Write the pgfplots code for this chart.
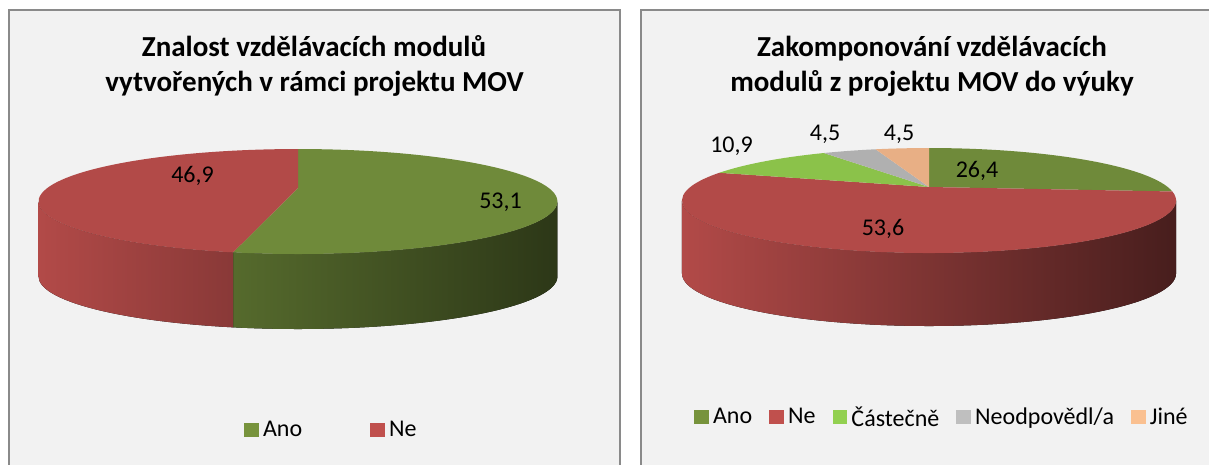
\documentclass[border=0pt]{standalone}
\usepackage{pgfplots}
\pgfplotsset{compat=1.18}
\usepackage{pgfplotstable}
\usepackage{fontspec}
\setmainfont{Carlito}

\definecolor{panelbg}{HTML}{F2F2F2}
\definecolor{panelborder}{HTML}{8A8A8A}
% top-face colours of the slices
\definecolor{A0}{HTML}{6F8A3A}
\definecolor{A1}{HTML}{B24A48}
\definecolor{B0}{HTML}{6F8A3A}
\definecolor{B1}{HTML}{B24A48}
\definecolor{B2}{HTML}{8BC24A}
\definecolor{B3}{HTML}{B0B0B0}
\definecolor{B4}{HTML}{E8AF85}
% legend colours
\definecolor{lgAno}{HTML}{77933C}
\definecolor{lgNe}{HTML}{C0504D}
\definecolor{lgCast}{HTML}{92D050}
\definecolor{lgNeod}{HTML}{BFBFBF}
\definecolor{lgJine}{HTML}{FAC090}

\newcommand\titlefont{\fontsize{29}{35}\selectfont\bfseries}
\newcommand\labfont{\fontsize{24}{29}\selectfont}

% value = percentage; lx, ly = position of the data label (baseline)
\pgfplotstableread{
name value lx ly
Ano 53.1 500.5 256
Ne 46.9 192.5 282
}\dataA
\pgfplotstableread{
name value lx ly
Ano 26.4 977 287
Ne 53.6 883 229
Castecne 10.9 731.5 312
Neodpovedl 4.5 825 324
Jine 4.5 899 324
}\dataB

% ---- 3D pie geometry (perspective projection of a disc) ----
\newcommand\PIstore[2]{\expandafter\xdef\csname PI#1\endcsname{#2}}
\newcommand\PIget[1]{\csname PI#1\endcsname}
\newcommand{\pieparams}[6]{%
  \pgfmathsetmacro\PIcx{#1}\pgfmathsetmacro\PIcy{#2}%
  \pgfmathsetmacro\PIrx{#3}\pgfmathsetmacro\PIry{#4}%
  \pgfmathsetmacro\PIh{#5}\pgfmathsetmacro\PID{#6}%
  \pgfmathsetmacro\PIYt{\PIry*\PID/(\PID+1)}%
  \pgfmathsetmacro\PIYb{-\PIry*\PID/(\PID-1)}%
  \pgfmathsetmacro\PIYc{(\PIYt+\PIYb)/2}%
  \pgfmathsetmacro\PIRy{(\PIYt-\PIYb)/2}%
  \pgfmathsetmacro\PIRx{\PIrx/sqrt(1-1/(\PID*\PID))}%
  \pgfmathsetmacro\PIex{\PIcx}%
  \pgfmathsetmacro\PIey{\PIcy+\PIYc}%
}
\newcommand{\pieT}[2]{%
  \pgfmathsetmacro\PIf{\PID/(\PID+sin(#1))}%
  \pgfmathsetmacro\PIu{cos(#1)*\PIf*(\PIrx/\PIRx)}%
  \pgfmathsetmacro\PIv{(\PIry*sin(#1)*\PIf-\PIYc)/\PIRy}%
  \pgfmathtruncatemacro\PIsmall{abs(\PIu)<0.001?1:0}%
  \ifnum\PIsmall=1
    \pgfmathsetmacro\PItt{\PIv>0?90:-90}%
  \else
    \pgfmathsetmacro\PItt{atan2(\PIv,\PIu)}%
  \fi
  \pgfmathsetmacro#2{\PItt+360*round((#1-\PItt)/360)}%
}
% computes the geometry from the table values, stores it globally
\newcommand{\computepie}[2]{%
  \pgfplotstablegetrowsof{#1}\pgfmathtruncatemacro\PIn{\pgfplotsretval-1}%
  \PIstore{#2@n}{\PIn}\PIstore{#2@cx}{\PIcx}\PIstore{#2@cy}{\PIcy}%
  \PIstore{#2@Rx}{\PIRx}\PIstore{#2@Ry}{\PIRy}%
  \def\PItot{0}%
  \pgfplotsforeachungrouped \i in {0,...,\PIn}{%
    \pgfplotstablegetelem{\i}{value}\of{#1}%
    \pgfmathsetmacro\PItot{\PItot+\pgfplotsretval}}%
  \def\PIth{90}%
  \pgfplotsforeachungrouped \i in {0,...,\PIn}{%
    \pgfplotstablegetelem{\i}{value}\of{#1}%
    \pgfmathsetmacro\PIthe{\PIth-(\pgfplotsretval/\PItot)*360}%
    \pieT{\PIth}\PIts\pieT{\PIthe}\PIte
    \pgfmathsetmacro\PIxs{\PIex+\PIRx*cos(\PIts)}%
    \pgfmathsetmacro\PIys{\PIey+\PIRy*sin(\PIts)}%
    \PIstore{#2@\i @ts}{\PIts}\PIstore{#2@\i @te}{\PIte}%
    \PIstore{#2@\i @xs}{\PIxs}\PIstore{#2@\i @ys}{\PIys}%
    \pgfmathsetmacro\PIa{max(\PIte,-180)}%
    \pgfmathsetmacro\PIb{min(\PIts,0)}%
    \pgfmathtruncatemacro\PIvis{(\PIa<\PIb-0.01)?1:0}%
    \PIstore{#2@\i @vis}{\PIvis}%
    \ifnum\PIvis=1
      \pgfmathsetmacro\PIxa{\PIex+\PIRx*cos(\PIa)}%
      \pgfmathsetmacro\PIya{\PIey+\PIRy*sin(\PIa)-\PIh}%
      \pgfmathsetmacro\PIxb{\PIex+\PIRx*cos(\PIb)}%
      \pgfmathsetmacro\PIyb{\PIey+\PIRy*sin(\PIb)}%
      \pgfmathsetmacro\PIfl{(1+cos(\PIa))/2}%
      \pgfmathsetmacro\PIfr{(1+cos(\PIb))/2}%
      \pgfmathtruncatemacro\PIpl{100-60*\PIfl}%
      \pgfmathtruncatemacro\PIpr{100-60*\PIfr}%
      \PIstore{#2@\i @a}{\PIa}\PIstore{#2@\i @b}{\PIb}%
      \PIstore{#2@\i @xa}{\PIxa}\PIstore{#2@\i @ya}{\PIya}%
      \PIstore{#2@\i @xb}{\PIxb}\PIstore{#2@\i @yb}{\PIyb}%
      \PIstore{#2@\i @pl}{\PIpl}\PIstore{#2@\i @pr}{\PIpr}%
    \fi
    \let\PIth\PIthe}%
}
% draws the stored geometry inside the axis
\newcommand{\renderpie}[1]{%
  \pgfkeys{/pgf/fpu=false}%
  \edef\Rn{\PIget{#1@n}}\edef\Rcx{\PIget{#1@cx}}\edef\Rcy{\PIget{#1@cy}}%
  \edef\RRx{\PIget{#1@Rx}}\edef\RRy{\PIget{#1@Ry}}%
  \pgfplotsforeachungrouped \i in {0,...,\Rn}{%
    \edef\Rvis{\PIget{#1@\i @vis}}%
    \ifnum\Rvis=1
      \edef\Ra{\PIget{#1@\i @a}}\edef\Rb{\PIget{#1@\i @b}}%
      \edef\Rxa{\PIget{#1@\i @xa}}\edef\Rya{\PIget{#1@\i @ya}}%
      \edef\Rxb{\PIget{#1@\i @xb}}\edef\Ryb{\PIget{#1@\i @yb}}%
      \edef\Rpl{\PIget{#1@\i @pl}}\edef\Rpr{\PIget{#1@\i @pr}}%
      \fill[left color=#1\i!\Rpl!black, right color=#1\i!\Rpr!black]
        (axis cs:\Rxb,\Ryb) arc[start angle=\Rb, end angle=\Ra, x radius=\RRx pt, y radius=\RRy pt]
        -- (axis cs:\Rxa,\Rya) arc[start angle=\Ra, end angle=\Rb, x radius=\RRx pt, y radius=\RRy pt]
        -- cycle;
    \fi}%
  \pgfplotsforeachungrouped \i in {0,...,\Rn}{%
    \edef\Rts{\PIget{#1@\i @ts}}\edef\Rte{\PIget{#1@\i @te}}%
    \edef\Rxs{\PIget{#1@\i @xs}}\edef\Rys{\PIget{#1@\i @ys}}%
    \fill[#1\i] (axis cs:\Rcx,\Rcy) -- (axis cs:\Rxs,\Rys)
      arc[start angle=\Rts, end angle=\Rte, x radius=\RRx pt, y radius=\RRy pt] -- cycle;}%
}

\pgfplotsset{
  pielabels/.style={draw=none, mark=none, forget plot, nodes near coords,
    point meta=explicit,
    nodes near coords={\pgfmathprintnumber[fixed,fixed zerofill,precision=1,use comma,assume math mode=true]{\pgfplotspointmeta}},
    nodes near coords style={anchor=base, font=\labfont, inner sep=0pt, text=black}},
  panel/.style={x=1pt, y=1pt, ymin=0, ymax=465, hide axis, clip=false,
    enlargelimits=false, legend columns=-1,
    legend style={draw=none, fill=none, inner sep=0pt, font=\labfont,
      nodes={inner sep=0pt}, anchor=west}},
}
\newcommand\sq[1]{\addlegendimage{legend image code/.code={\fill[#1] (0pt,-6.5pt) rectangle (13.5pt,6.5pt);}}}

\begin{document}
\begin{tikzpicture}
\pieparams{298}{277}{250.7}{49}{75}{3.88}\computepie{\dataA}{A}
\pieparams{929}{278}{238.7}{49}{73}{3.88}\computepie{\dataB}{B}
\begin{axis}[panel, at={(0pt,0pt)}, anchor=south west, xmin=0, xmax=630,
  legend style={at={(0.3873,0.0753)},
    /tikz/every odd column/.append style={column sep=5pt},
    /tikz/every even column/.append style={column sep=68pt}}]
\pgfplotsextra{\fill[panelbg, draw=panelborder, line width=1.3pt] (axis cs:9,-10) rectangle (axis cs:620,455);}
\pgfplotsextra{\renderpie{A}}
\addplot[pielabels] table[x=lx, y=ly, meta=value] {\dataA};
\node[anchor=base, font=\titlefont] at (axis cs:314,408) {Znalost vzdělávacích modulů};
\node[anchor=base, font=\titlefont] at (axis cs:314.5,373) {vytvořených v rámci projektu MOV};
\sq{lgAno}\addlegendentry{Ano}
\sq{lgNe}\addlegendentry{Ne}
\end{axis}

\begin{axis}[panel, at={(630pt,0pt)}, anchor=south west, xmin=630, xmax=1209,
  legend style={at={(0.1105,0.1032)},
    /tikz/every odd column/.append style={column sep=5pt},
    /tikz/every even column/.append style={column sep=17pt}}]
\pgfplotsextra{\fill[panelbg, draw=panelborder, line width=1.3pt] (axis cs:641,-10) rectangle (axis cs:1225,455);}
\pgfplotsextra{\renderpie{B}}
\addplot[pielabels] table[x=lx, y=ly, meta=value] {\dataB};
\node[anchor=base, font=\titlefont] at (axis cs:932,408) {Zakomponování vzdělávacích};
\node[anchor=base, font=\titlefont] at (axis cs:932,373) {modulů z projektu MOV do výuky};
\sq{lgAno}\addlegendentry{Ano}
\sq{lgNe}\addlegendentry{Ne}
\sq{lgCast}\addlegendentry{Částečně}
\sq{lgNeod}\addlegendentry{Neodpovědl/a}
\sq{lgJine}\addlegendentry{Jiné}
\end{axis}
\pgfresetboundingbox
\path (0pt,0pt) rectangle (1209pt,465pt);
\end{tikzpicture}
\end{document}
